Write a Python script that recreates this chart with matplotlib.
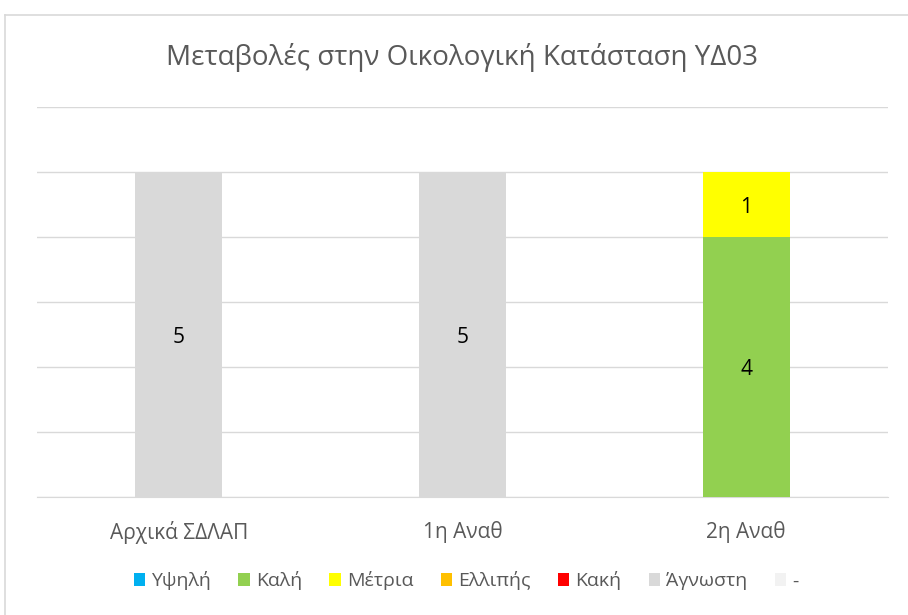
import matplotlib
matplotlib.use("Agg")
import matplotlib.pyplot as plt
from matplotlib.lines import Line2D
from matplotlib.patches import Patch
import numpy as np

plt.rcParams['font.family'] = ['Open Sans', 'DejaVu Sans']

# data
categories = ['Αρχικά ΣΔΛΑΠ', '1η Αναθ', '2η Αναθ']
series_names = ['Υψηλή', 'Καλή', 'Μέτρια', 'Ελλιπής', 'Κακή', 'Άγνωστη', '-']
ypsili = [0, 0, 0]
kali = [0, 0, 4]
metria = [0, 0, 1]
ellipis = [0, 0, 0]
kaki = [0, 0, 0]
agnosti = [5, 5, 0]
pavla = [0, 0, 0]
series_values = [ypsili, kali, metria, ellipis, kaki, agnosti, pavla]
colors = ['#00B0F0', '#92D050', '#FFFF00', '#FFC000', '#FF0000', '#D9D9D9', '#F2F2F2']

W, H = 908, 615
fig = plt.figure(figsize=(W / 100, H / 100), dpi=100)

# chart border (left and top visible, rest runs off the picture)
fig.add_artist(Line2D([5 / W, 5 / W], [0, 1 - 15 / H], color='#D9D9D9', lw=1.2,
                      transform=fig.transFigure))
fig.add_artist(Line2D([5 / W, 1], [1 - 15 / H, 1 - 15 / H], color='#D9D9D9', lw=1.2,
                      transform=fig.transFigure))

ax = fig.add_axes([37 / W, 1 - 497 / H, (888 - 37) / W, (497 - 107) / H])

x = np.arange(len(categories))
bottom = np.zeros(len(categories))
for name, vals, c in zip(series_names, series_values, colors):
    vals = np.array(vals, dtype=float)
    ax.bar(x, vals, width=0.307, bottom=bottom, color=c, zorder=3)
    for xi, v, b in zip(x, vals, bottom):
        if v > 0:
            ax.text(xi, b + v / 2 - 0.04, f'{int(v)}', ha='center', va='center',
                    fontsize=15, color='#000000', zorder=4)
    bottom += vals

ax.set_xlim(-0.5, 2.5)
ax.set_ylim(0, 6)
ax.set_yticks(np.arange(0, 7, 1))
ax.yaxis.grid(True, color='#D9D9D9', lw=1, zorder=0)
ax.tick_params(axis='y', left=False, labelleft=False)
ax.tick_params(axis='x', bottom=False, labelsize=15, labelcolor='#595959', pad=14)
ax.set_xticks(x)
ax.set_xticklabels(categories)
for s in ['top', 'right', 'left']:
    ax.spines[s].set_visible(False)
ax.spines['bottom'].set_color('#D9D9D9')

fig.text(462 / W, 1 - 58 / H, 'Μεταβολές στην Οικολογική Κατάσταση ΥΔ03',
         ha='center', va='center', fontsize=20, color='#595959')

handles = [Patch(facecolor=c, edgecolor='none') for c in colors]
fig.legend(handles, series_names, loc='center', bbox_to_anchor=(466 / W, 1 - 581 / H),
           ncol=7, frameon=False, fontsize=14, labelcolor='#595959',
           handlelength=0.6, handleheight=0.6, handletextpad=0.3, columnspacing=1.4)

fig.savefig('out.png', dpi=100, facecolor='white')
